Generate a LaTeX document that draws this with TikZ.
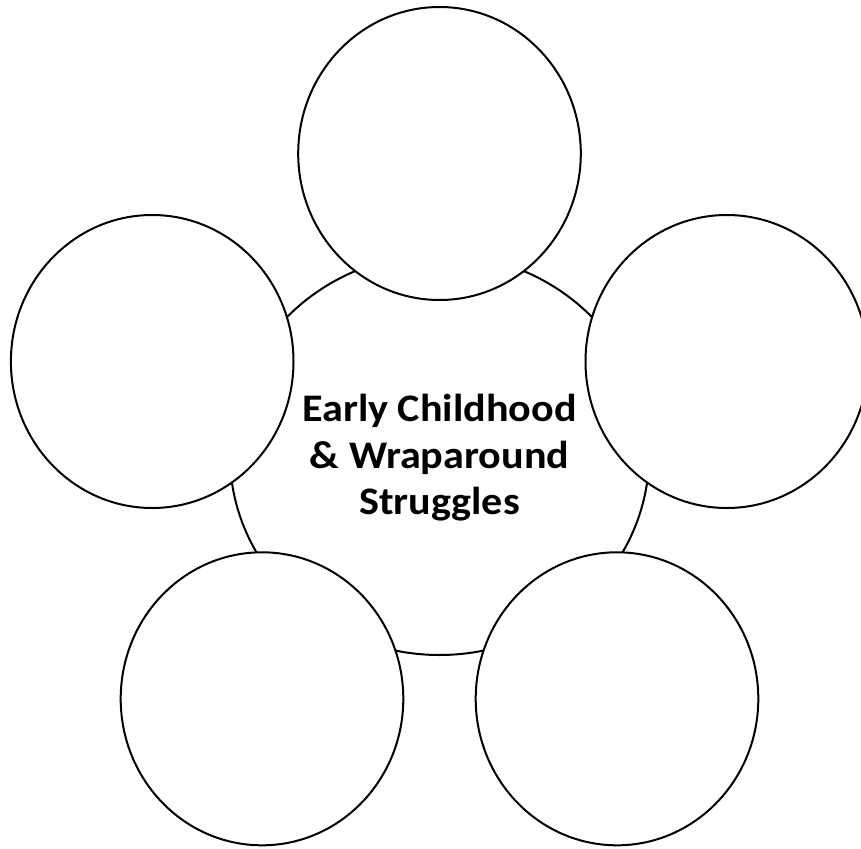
\documentclass[tikz,border=0pt]{standalone}
\usepackage{fontspec}
\setmainfont{Carlito}
\usetikzlibrary{shapes.geometric}
\begin{document}
\begin{tikzpicture}[x=1pt,y=-1pt,
  ring/.style={ellipse,draw=black,fill=white,line width=2pt,inner sep=0pt,
    minimum width=282.6pt,minimum height=293pt},
  hub/.style={ellipse,draw=black,fill=white,line width=2pt,inner sep=0pt,
    minimum width=419.2pt,minimum height=400.8pt},
  hubtext/.style={align=center,inner sep=0pt,xscale=1.08,
    font=\fontsize{39pt}{46.5pt}\selectfont\bfseries}]
\useasboundingbox (0,0) rectangle (861,848);
\clip (0,0) rectangle (861,848);
\node[hub] (center) at (439.5,454.6) {};
\node[ring] (top) at (439.5,153.5) {};
\node[ring] (left) at (152.2,361.5) {};
\node[ring] (right) at (726.8,361.5) {};
\node[ring] (botleft) at (262,698.8) {};
\node[ring] (botright) at (617,698.8) {};
\node[hubtext] (label) at (439.5,458) {Early Childhood\\\& Wraparound\\Struggles};
\end{tikzpicture}
\end{document}
